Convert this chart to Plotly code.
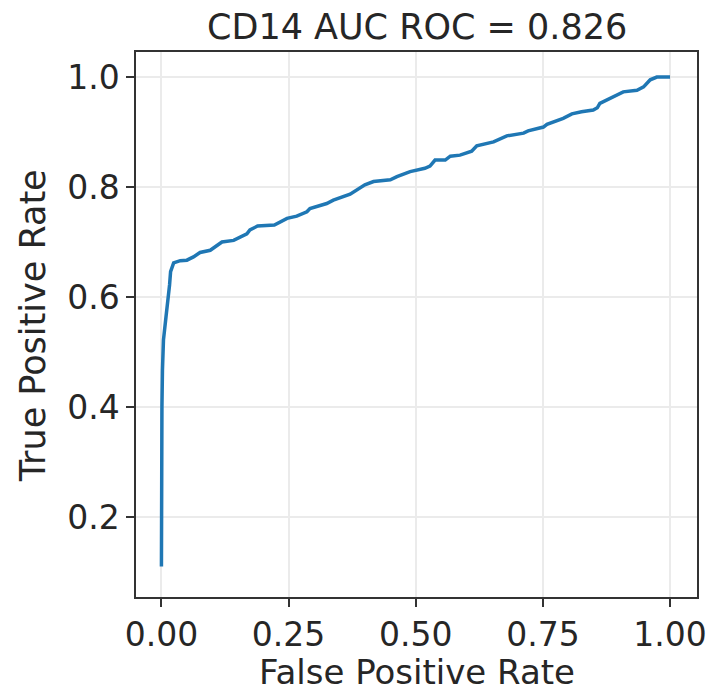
import plotly.graph_objects as go

# ROC curve values
fpr = [0.000, 0.000, 0.001, 0.002, 0.004, 0.009, 0.014, 0.016, 0.018, 0.024,
       0.037, 0.050, 0.063, 0.076, 0.096, 0.102, 0.119, 0.142, 0.168, 0.174,
       0.189, 0.222, 0.247, 0.266, 0.286, 0.292, 0.312, 0.325, 0.338, 0.371,
       0.400, 0.417, 0.450, 0.463, 0.489, 0.518, 0.528, 0.538, 0.558, 0.568,
       0.587, 0.610, 0.620, 0.653, 0.679, 0.712, 0.721, 0.751, 0.758, 0.790,
       0.807, 0.826, 0.849, 0.857, 0.862, 0.889, 0.908, 0.935, 0.948, 0.961,
       0.974, 1.000]
tpr = [0.110, 0.267, 0.400, 0.467, 0.522, 0.564, 0.600, 0.622, 0.646, 0.662,
       0.666, 0.667, 0.673, 0.681, 0.685, 0.689, 0.700, 0.703, 0.715, 0.722,
       0.729, 0.731, 0.743, 0.747, 0.755, 0.761, 0.766, 0.770, 0.776, 0.787,
       0.804, 0.810, 0.813, 0.819, 0.828, 0.834, 0.838, 0.849, 0.849, 0.856,
       0.858, 0.865, 0.875, 0.882, 0.893, 0.898, 0.902, 0.909, 0.914, 0.925,
       0.933, 0.937, 0.940, 0.944, 0.952, 0.965, 0.973, 0.976, 0.982, 0.995,
       1.000, 1.000]

x_ticks = [0.0, 0.25, 0.5, 0.75, 1.0]
x_tick_labels = ["0.00", "0.25", "0.50", "0.75", "1.00"]
y_ticks = [0.2, 0.4, 0.6, 0.8, 1.0]
y_tick_labels = ["0.2", "0.4", "0.6", "0.8", "1.0"]

title_text = "CD14 AUC ROC = 0.826"
x_title = "False Positive Rate"
y_title = "True Positive Rate"

FONT = "DejaVu Sans"
TXT = "#262626"

fig = go.Figure()
fig.add_trace(go.Scatter(x=fpr, y=tpr, mode="lines",
                         line=dict(color="#1f77b4", width=3.5),
                         showlegend=False))

axis_common = dict(
    showline=True, linecolor="#333333", linewidth=1.5, mirror=True,
    ticks="outside", ticklen=8, tickwidth=1.5, tickcolor="#333333",
    showgrid=True, gridcolor="#ebebeb", gridwidth=1.5,
    zeroline=False, automargin=False,
    tickfont=dict(family=FONT, size=33, color=TXT),
)

fig.update_layout(
    width=712, height=688,
    margin=dict(l=136, r=15, t=52, b=91),
    paper_bgcolor="white", plot_bgcolor="white",
    font=dict(family=FONT, color=TXT),
    xaxis=dict(range=[-0.05, 1.053], tickvals=x_ticks, ticktext=x_tick_labels,
               **axis_common),
    yaxis=dict(range=[0.0545, 1.0455], tickvals=y_ticks, ticktext=y_tick_labels,
               **axis_common),
    annotations=[
        dict(text=title_text, xref="paper", yref="paper", x=0.5, y=1.046,
             xanchor="center", yanchor="middle", showarrow=False,
             font=dict(family=FONT, size=35, color=TXT)),
        dict(text=x_title, xref="paper", yref="paper", x=0.5, y=-0.137,
             xanchor="center", yanchor="middle", showarrow=False,
             font=dict(family=FONT, size=34, color=TXT)),
        dict(text=y_title, xref="paper", yref="paper", x=-0.1836, y=0.497,
             xanchor="center", yanchor="middle", showarrow=False, textangle=-90,
             font=dict(family=FONT, size=35, color=TXT)),
    ],
)

fig.write_html("out.html",
               config={"displayModeBar": False},
               post_script="document.body.style.margin='0';document.body.style.padding='0';")
